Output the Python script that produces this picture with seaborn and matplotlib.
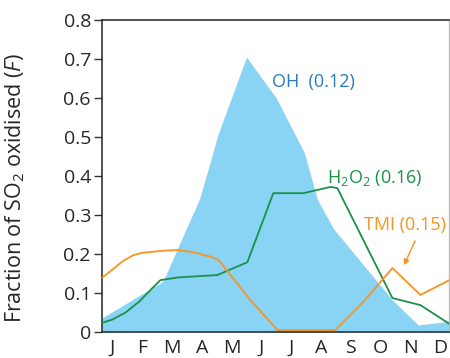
import numpy as np
import pandas as pd
import matplotlib
matplotlib.use("Agg")
import matplotlib.pyplot as plt
import seaborn as sns

months = ["J", "F", "M", "A", "M", "J", "J", "A", "S", "O", "N", "D"]

# OH (filled area), positions in month units (0 = Jan)
oh_x = [-0.37, 1.7, 2.45, 2.92, 3.56, 4.5, 5.5, 6.44, 6.88, 7.42, 9.4, 10.27, 11.34]
oh_y = [0.035, 0.13, 0.26, 0.34, 0.51, 0.705, 0.60, 0.46, 0.34, 0.265, 0.082, 0.018, 0.028]

# H2O2
h2o2_x = [-0.37, 0.0, 0.44, 0.9, 1.28, 1.61, 2.2, 3.52, 4.53, 5.40, 6.41, 7.32, 7.55, 9.40, 10.34, 11.31]
h2o2_y = [0.023, 0.032, 0.05, 0.078, 0.108, 0.133, 0.14, 0.146, 0.179, 0.356, 0.356, 0.372, 0.369, 0.087, 0.069, 0.021]

# TMI
tmi_x = [-0.37, 0.0, 0.35, 0.70, 1.0, 1.38, 1.8, 2.18, 2.6, 2.95, 3.3, 3.56, 4.63, 5.54, 7.48, 8.42, 9.40, 10.34, 11.31]
tmi_y = [0.138, 0.16, 0.182, 0.197, 0.203, 0.206, 0.209, 0.21, 0.206, 0.2, 0.193, 0.185, 0.082, 0.005, 0.005, 0.077, 0.164, 0.095, 0.133]

blue_fill = "#89d4f5"
blue_text = "#2a7ac0"
green = "#1a9147"
orange = "#f7931e"

sns.set_style("ticks")
plt.rcParams["font.family"] = ["Open Sans", "DejaVu Sans"]
plt.rcParams["mathtext.fontset"] = "custom"
plt.rcParams["mathtext.rm"] = "Open Sans"
plt.rcParams["mathtext.it"] = "Open Sans:italic"

fig = plt.figure(figsize=(4.5, 3.58), dpi=100)
ax = fig.add_axes([0.2267, 0.0726, 0.7711, 0.8715])

ax.fill_between(oh_x, oh_y, 0, color=blue_fill, linewidth=0, zorder=1)

h2o2 = pd.DataFrame({"x": h2o2_x, "y": h2o2_y})
tmi = pd.DataFrame({"x": tmi_x, "y": tmi_y})
sns.lineplot(data=h2o2, x="x", y="y", color=green, linewidth=1.3, sort=False, ax=ax, zorder=3)
sns.lineplot(data=tmi, x="x", y="y", color=orange, linewidth=1.3, sort=False, ax=ax, zorder=3)

ax.set_xlim(-0.35, 11.3)
ax.set_ylim(0, 0.8)
ax.set_xticks(range(12))
ax.set_xticklabels(months)
ax.set_yticks(np.arange(0, 0.81, 0.1))
ax.set_yticklabels(["0"] + [f"{v:.1f}" for v in np.arange(0.1, 0.81, 0.1)])
ax.tick_params(axis="y", direction="out", length=6, width=1, labelsize=14, pad=2, color="#333333")
ax.tick_params(axis="x", length=0, labelsize=14, pad=5)
ax.set_xlabel("")
ax.set_ylabel("Fraction of SO$_2$ oxidised ($F$)", fontsize=15.5)
ax.yaxis.set_label_coords(-0.215, 0.46)

for side in ["left", "bottom", "top"]:
    ax.spines[side].set_color("#333333")
    ax.spines[side].set_linewidth(1.2)
ax.spines["right"].set_color("#bbbbbb")
ax.spines["right"].set_linewidth(1)

ax.text(5.35, 0.64, "OH  (0.12)", color=blue_text, fontsize=13, va="center", ha="left")
ax.text(7.2, 0.395, "H$_2$O$_2$ (0.16)", color=green, fontsize=13, va="center", ha="left")
ax.text(8.45, 0.275, "TMI (0.15)", color=orange, fontsize=13, va="center", ha="left")
ax.annotate("", xy=(9.75, 0.165), xytext=(10.2, 0.24),
            arrowprops=dict(arrowstyle="-|>", color=orange, lw=1, mutation_scale=8))

fig.savefig("out.png", dpi=100)
